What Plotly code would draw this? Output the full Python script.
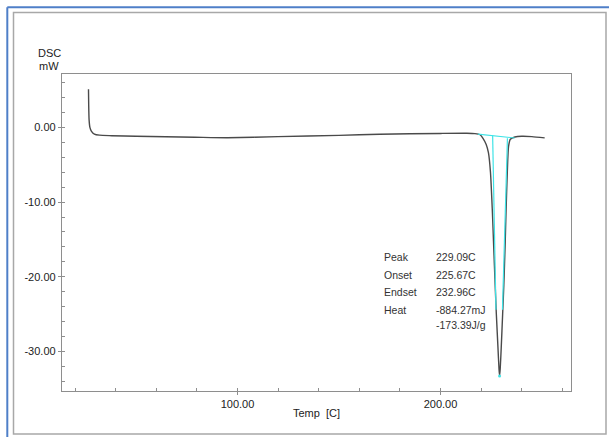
import plotly.graph_objects as go

# ---- data ----
temp_c = [26.6, 26.7, 26.9, 27.3, 28.0, 29.5, 32.0, 38.0, 50.0, 79.0, 95.0, 120.0,
          150.0, 170.0, 200.0, 213.0, 217.0, 219.5, 221.0, 222.5, 223.6, 224.6,
          225.5, 226.2, 226.9, 227.5, 228.3, 228.8, 229.09, 229.4, 229.9, 230.6,
          231.2, 231.8, 232.3, 232.9, 233.5, 234.4, 236.6, 240.0, 245.0, 251.3]
dsc_mw = [5.1, 3.0, 1.0, 0.0, -0.5, -0.9, -1.05, -1.12, -1.2, -1.33, -1.39, -1.25,
          -1.08, -0.93, -0.82, -0.8, -0.85, -1.0, -1.5, -2.3, -3.4, -6.0,
          -11.0, -16.0, -21.0, -25.0, -29.5, -32.3, -33.25, -32.3, -29.5, -25.0,
          -21.0, -16.0, -11.0, -6.0, -2.6, -1.6, -1.3, -1.2, -1.25, -1.42]

baseline_t = [218.4, 236.6]
baseline_v = [-0.9, -1.43]
onset_tan_t = [225.67, 227.3]
onset_tan_v = [-1.1, -24.4]
endset_tan_t = [232.96, 230.5]
endset_tan_v = [-1.45, -24.4]
peak_t = [229.09]
peak_v = [-33.25]

result_labels = ["Peak", "Onset", "Endset", "Heat", ""]
result_values = ["229.09C", "225.67C", "232.96C", "-884.27mJ", "-173.39J/g"]

x_major = [100, 200]
y_major = [0, -10, -20, -30]

X_RANGE = [13.55, 264.27]
Y_RANGE = [-35.27, 7.13]

# ---- layout geometry (pixels) ----
W, H = 609, 437
L, R, T, B = 62, 571, 74, 391


def px(p):
    return (p - L) / (R - L)


def py(p):
    return (B - p) / (B - T)


FONT = "Liberation Sans, Arial, Helvetica, sans-serif"
CYAN = "#3fe3e6"

fig = go.Figure()
fig.add_trace(go.Scatter(x=temp_c, y=dsc_mw, mode="lines",
                         line=dict(color="#4a4a4a", width=1.4, shape="spline", smoothing=0.6),
                         hoverinfo="skip", showlegend=False))
for xs, ys in [(baseline_t, baseline_v), (onset_tan_t, onset_tan_v), (endset_tan_t, endset_tan_v)]:
    fig.add_trace(go.Scatter(x=xs, y=ys, mode="lines", line=dict(color=CYAN, width=1.2),
                             hoverinfo="skip", showlegend=False))
fig.add_trace(go.Scatter(x=peak_t, y=peak_v, mode="markers",
                         marker=dict(color=CYAN, size=3), hoverinfo="skip", showlegend=False))

annotations = []
# results block
row_y = [257.3, 274.6, 292.0, 309.5, 324.5]
for lab, val, yy in zip(result_labels, result_values, row_y):
    if lab:
        annotations.append(dict(x=px(382), y=py(yy), xref="paper", yref="paper", text=lab,
                                showarrow=False, xanchor="left", yanchor="middle",
                                font=dict(family=FONT, size=10.5, color="#333")))
    annotations.append(dict(x=px(433.5), y=py(yy), xref="paper", yref="paper", text=val,
                            showarrow=False, xanchor="left", yanchor="middle",
                            font=dict(family=FONT, size=10.5, color="#333")))
# axis titles
annotations.append(dict(x=0.5, y=py(413), xref="paper", yref="paper", text="Temp\u00a0 [C]",
                        showarrow=False, xanchor="center", yanchor="middle",
                        font=dict(family=FONT, size=11, color="#222")))
annotations.append(dict(x=px(49.8), y=py(52.7), xref="paper", yref="paper", text="DSC",
                        showarrow=False, xanchor="center", yanchor="middle",
                        font=dict(family=FONT, size=11, color="#222")))
annotations.append(dict(x=px(49.0), y=py(65.7), xref="paper", yref="paper", text="mW",
                        showarrow=False, xanchor="center", yanchor="middle",
                        font=dict(family=FONT, size=11, color="#222")))

shapes = [
    # outer gray frame
    dict(type="rect", xref="paper", yref="paper", x0=px(13.5), x1=px(606), y0=py(434), y1=py(12.5),
         line=dict(color="#a8a8a8", width=1.5), layer="below"),
    # blue screenshot edges
    dict(type="line", xref="paper", yref="paper", x0=px(7.3), x1=px(7.3), y0=py(437), y1=py(7.3),
         line=dict(color="#4f7fc8", width=2)),
    dict(type="line", xref="paper", yref="paper", x0=px(7.3), x1=px(609), y0=py(7.3), y1=py(7.3),
         line=dict(color="#4f7fc8", width=2)),
]

axis_common = dict(showline=True, mirror=True, linecolor="#8e8e8e", linewidth=1.3,
                   showgrid=False, zeroline=False, ticks="outside", ticklen=3,
                   tickcolor="#8e8e8e", tickwidth=1,
                   tickfont=dict(family=FONT, size=11, color="#222"))

fig.update_layout(
    width=W, height=H,
    margin=dict(l=L, r=W - R, t=T, b=H - B, pad=0),
    paper_bgcolor="white", plot_bgcolor="white",
    showlegend=False,
    xaxis=dict(range=X_RANGE, tickvals=x_major, ticktext=[f"{v:.2f}" for v in x_major],
               minor=dict(dtick=20, tick0=0, ticks="inside", ticklen=3, tickcolor="#8e8e8e",
                          showgrid=False),
               **axis_common),
    yaxis=dict(range=Y_RANGE, tickvals=y_major, ticktext=[f"{v:.2f}" for v in y_major],
               minor=dict(dtick=2, tick0=0, ticks="inside", ticklen=3, tickcolor="#8e8e8e",
                          showgrid=False),
               **axis_common),
    annotations=annotations,
    shapes=shapes,
)

fig.write_html("out.html",
               config={"displayModeBar": False},
               post_script="document.body.style.margin='0';document.body.style.overflow='hidden';")
